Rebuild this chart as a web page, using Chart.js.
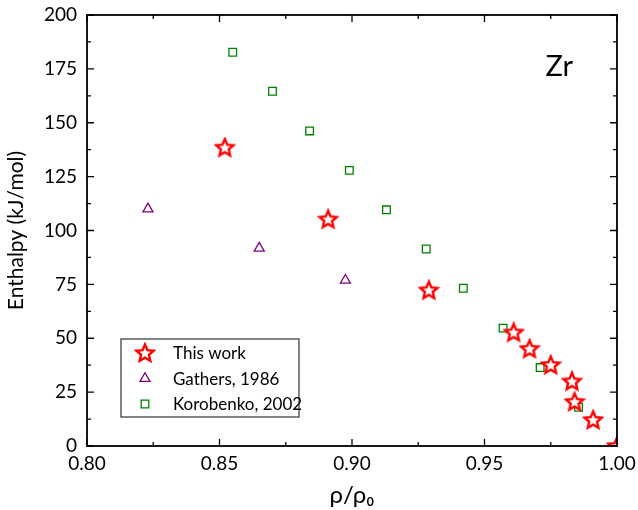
<!DOCTYPE html>
<html>
<head>
<meta charset="utf-8">
<script src="https://cdn.jsdelivr.net/npm/chart.js@4"></script>
<style>
    html, body { margin: 0; padding: 0; background: #fff; }
    #wrap { width: 638px; height: 510px; }
</style>
</head>
<body>
<div id="wrap"><canvas id="enthalpy-chart" width="638" height="510"></canvas></div>
<script>
// Данные: относительная плотность и энтальпия (кДж/моль)
const thisWorkDensity = [0.852, 0.891, 0.929, 0.961, 0.967, 0.975, 0.983, 0.984, 0.991, 1.000];
const thisWorkEnthalpy = [138.5, 105.2, 72.3, 52.7, 45.1, 37.6, 30.0, 20.5, 12.1, 0.0];

const gathersDensity = [0.823, 0.865, 0.8975];
const gathersEnthalpy = [110.0, 91.8, 76.9];

const korobenkoDensity = [0.855, 0.870, 0.884, 0.899, 0.913, 0.928, 0.942, 0.957, 0.971, 0.9855];
const korobenkoEnthalpy = [182.7, 164.6, 146.2, 127.9, 109.6, 91.4, 73.2, 54.7, 36.4, 18.0];

const xTicks = [0.80, 0.85, 0.90, 0.95, 1.00];
const yTicks = [0, 25, 50, 75, 100, 125, 150, 175, 200];

const FONT = 'Lato, "Open Sans", sans-serif';

function toPoints(xs, ys) {
    return xs.map((x, i) => ({ x: x, y: ys[i] }));
}

// Пятиконечная звезда для маркера (в Chart.js 'star' — это звёздочка)
function makeStar(size, color) {
    const c = document.createElement('canvas');
    c.width = size;
    c.height = size;
    const ctx = c.getContext('2d');
    const cx = size / 2, cy = size / 2 + 0.5;
    const outer = size / 2 - 2, inner = outer * 0.46;
    ctx.beginPath();
    for (let i = 0; i < 10; i++) {
        const r = i % 2 === 0 ? outer : inner;
        const a = -Math.PI / 2 + i * Math.PI / 5;
        ctx.lineTo(cx + r * Math.cos(a), cy + r * Math.sin(a));
    }
    ctx.closePath();
    ctx.fillStyle = '#fff';
    ctx.fill();
    ctx.lineWidth = 2.4;
    ctx.lineJoin = 'miter';
    ctx.strokeStyle = color;
    ctx.stroke();
    return c;
}

const starImg = makeStar(22, '#ff0000');

// Рамка и внутренние засечки (главные и промежуточные) на всех четырёх сторонах
const frameTicks = {
    id: 'frameTicks',
    afterDatasetsDraw(chart) {
        const { ctx, chartArea: a, scales } = chart;
        ctx.save();
        ctx.strokeStyle = '#000';
        ctx.lineWidth = 1.8;
        ctx.strokeRect(a.left, a.top, a.right - a.left, a.bottom - a.top);
        ctx.lineWidth = 1.3;
        ctx.beginPath();
        const xs = scales.x, ys = scales.y;
        for (let i = 0; i < xTicks.length; i++) {
            const px = xs.getPixelForValue(xTicks[i]);
            ctx.moveTo(px, a.bottom); ctx.lineTo(px, a.bottom - 7);
            ctx.moveTo(px, a.top); ctx.lineTo(px, a.top + 7);
            if (i < xTicks.length - 1) {
                const mx = xs.getPixelForValue((xTicks[i] + xTicks[i + 1]) / 2);
                ctx.moveTo(mx, a.bottom); ctx.lineTo(mx, a.bottom - 4);
                ctx.moveTo(mx, a.top); ctx.lineTo(mx, a.top + 4);
            }
        }
        for (let i = 0; i < yTicks.length; i++) {
            const py = ys.getPixelForValue(yTicks[i]);
            ctx.moveTo(a.left, py); ctx.lineTo(a.left + 7, py);
            ctx.moveTo(a.right, py); ctx.lineTo(a.right - 7, py);
            if (i < yTicks.length - 1) {
                const my = ys.getPixelForValue((yTicks[i] + yTicks[i + 1]) / 2);
                ctx.moveTo(a.left, my); ctx.lineTo(a.left + 4, my);
                ctx.moveTo(a.right, my); ctx.lineTo(a.right - 4, my);
            }
        }
        ctx.stroke();

        // Обозначение элемента
        ctx.fillStyle = '#000';
        ctx.font = '29px ' + FONT;
        ctx.textAlign = 'right';
        ctx.textBaseline = 'alphabetic';
        ctx.fillText('Zr', a.right - 44, a.top + 61);
        ctx.restore();
    }
};

// Легенда внутри области графика, слева снизу
const insetLegend = {
    id: 'insetLegend',
    afterDraw(chart) {
        const { ctx, chartArea: a } = chart;
        const left = a.left + 34, top = a.bottom - 107, w = 178, h = 78;
        ctx.save();
        ctx.fillStyle = '#fff';
        ctx.fillRect(left, top, w, h);
        ctx.strokeStyle = '#333';
        ctx.lineWidth = 1.2;
        ctx.strokeRect(left, top, w, h);
        ctx.font = '17px ' + FONT;
        ctx.textBaseline = 'middle';
        ctx.textAlign = 'left';
        chart.data.datasets.forEach((ds, i) => {
            const y = top + 14 + i * 25.5;
            const x = left + 24;
            ctx.strokeStyle = ds.borderColor;
            ctx.fillStyle = ds.backgroundColor;
            ctx.lineWidth = ds.borderWidth;
            Chart.helpers.drawPoint(ctx, {
                pointStyle: ds.pointStyle,
                radius: ds.pointRadius,
                rotation: 0,
                borderWidth: ds.borderWidth
            }, x, y);
            ctx.fillStyle = '#000';
            ctx.fillText(ds.label, left + 52, y + 1);
        });
        ctx.restore();
    }
};

const ctx = document.getElementById('enthalpy-chart').getContext('2d');
new Chart(ctx, {
    type: 'scatter',
    data: {
        datasets: [
            {
                label: 'This work',
                data: toPoints(thisWorkDensity, thisWorkEnthalpy),
                pointStyle: starImg,
                pointRadius: 9,
                borderColor: '#ff0000',
                backgroundColor: '#fff',
                borderWidth: 2.4,
                clip: 0,
                order: 0
            },
            {
                label: 'Gathers, 1986',
                data: toPoints(gathersDensity, gathersEnthalpy),
                pointStyle: 'triangle',
                pointRadius: 5.8,
                borderColor: '#800080',
                backgroundColor: 'rgba(255,255,255,0)',
                borderWidth: 1.3,
                order: 1
            },
            {
                label: 'Korobenko, 2002',
                data: toPoints(korobenkoDensity, korobenkoEnthalpy),
                pointStyle: 'rect',
                pointRadius: 5.4,
                borderColor: '#008000',
                backgroundColor: 'rgba(255,255,255,0)',
                borderWidth: 1.3,
                order: 2
            }
        ]
    },
    options: {
        responsive: false,
        animation: false,
        layout: { padding: { top: 15, right: 21, left: 0, bottom: 0 } },
        plugins: {
            legend: { display: false },
            tooltip: { enabled: false }
        },
        scales: {
            x: {
                type: 'linear',
                min: 0.8,
                max: 1.0,
                afterBuildTicks: scale => { scale.ticks = xTicks.map(v => ({ value: v })); },
                afterFit: scale => {
                    scale.height = 64;
                    scale.paddingLeft = 0;
                    scale.paddingRight = 0;
                },
                grid: { display: false, drawTicks: false },
                border: { display: false },
                ticks: {
                    padding: 6,
                    color: '#000',
                    font: { family: FONT, size: 19 },
                    callback: v => v.toFixed(2)
                },
                title: {
                    display: true,
                    text: 'ρ/ρ₀',
                    color: '#000',
                    font: { family: FONT, size: 24 },
                    padding: { top: 2, bottom: 0 }
                }
            },
            y: {
                type: 'linear',
                min: 0,
                max: 200,
                afterBuildTicks: scale => { scale.ticks = yTicks.map(v => ({ value: v })); },
                afterFit: scale => {
                    scale.width = 87;
                    scale.paddingTop = 0;
                    scale.paddingBottom = 0;
                },
                grid: { display: false, drawTicks: false },
                border: { display: false },
                ticks: {
                    padding: 10,
                    color: '#000',
                    font: { family: FONT, size: 19 }
                },
                title: {
                    display: true,
                    text: 'Enthalpy (kJ/mol)',
                    color: '#000',
                    font: { family: FONT, size: 21 },
                    padding: { top: 4, bottom: 4 }
                }
            }
        }
    },
    plugins: [frameTicks, insetLegend]
});
</script>
</body>
</html>
